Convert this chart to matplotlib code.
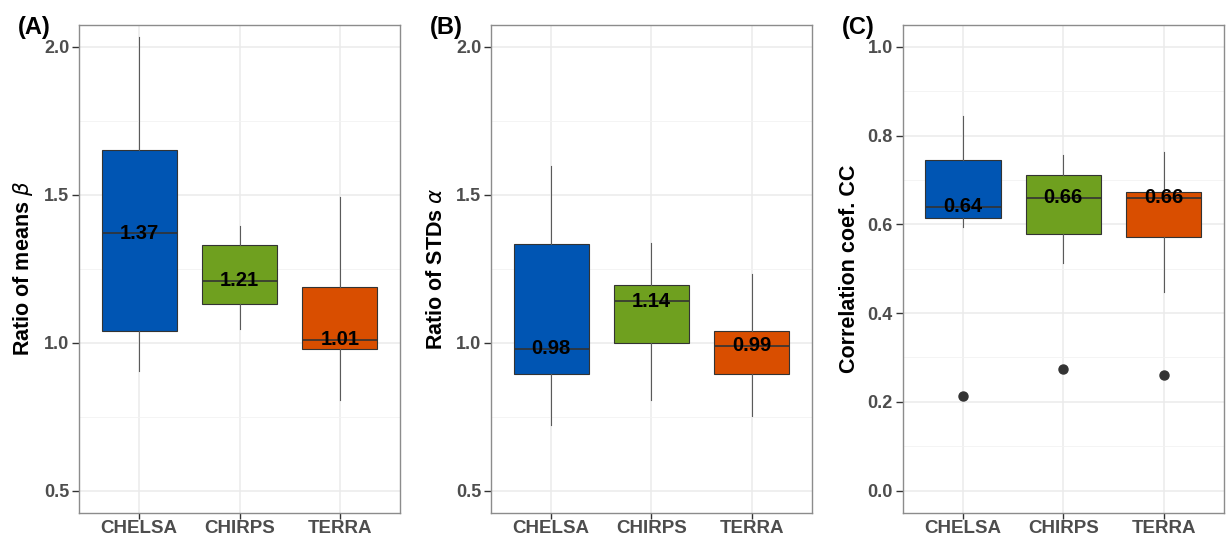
import matplotlib
matplotlib.use('Agg')
import matplotlib.pyplot as plt
from matplotlib.ticker import MultipleLocator

plt.rcParams['font.family'] = ['Liberation Sans', 'DejaVu Sans']

products = ['CHELSA', 'CHIRPS', 'TERRA']
colors = ['#0055B3', '#6FA01F', '#D94E00']

# five-number summaries: (whislo, q1, med, q3, whishi)
beta_lo = [0.905, 1.045, 0.807]
beta_q1 = [1.040, 1.131, 0.977]
beta_med = [1.37, 1.21, 1.01]
beta_q3 = [1.652, 1.330, 1.188]
beta_hi = [2.033, 1.393, 1.491]

alpha_lo = [0.723, 0.805, 0.752]
alpha_q1 = [0.895, 0.998, 0.894]
alpha_med = [0.98, 1.14, 0.99]
alpha_q3 = [1.333, 1.195, 1.038]
alpha_hi = [1.597, 1.336, 1.231]

cc_lo = [0.594, 0.512, 0.447]
cc_q1 = [0.615, 0.579, 0.571]
cc_med = [0.64, 0.66, 0.66]
cc_q3 = [0.744, 0.711, 0.673]
cc_hi = [0.844, 0.756, 0.763]
cc_out = [0.212, 0.273, 0.261]


def draw_panel(ax, lo, q1, med, q3, hi, fliers, ylim, major, ylabel, tag, label_x):
    stats = []
    for i in range(len(products)):
        stats.append({'whislo': lo[i], 'q1': q1[i], 'med': med[i], 'q3': q3[i],
                      'whishi': hi[i], 'fliers': fliers[i] if fliers else []})
    pos = list(range(1, len(products) + 1))
    bp = ax.bxp(stats, positions=pos, widths=0.75, patch_artist=True, showcaps=False,
                boxprops=dict(edgecolor='#333333', linewidth=0.8),
                medianprops=dict(color='#333333', linewidth=1.2),
                whiskerprops=dict(color='#5A5A5A', linewidth=0.8),
                flierprops=dict(marker='o', markersize=6.5, markerfacecolor='#333333',
                                markeredgecolor='#333333'),
                zorder=3)
    for patch, c in zip(bp['boxes'], colors):
        patch.set_facecolor(c)
    for p, m in zip(pos, med):
        ax.text(p, m, '%.2f' % m, ha='center', va='center', fontsize=14.5,
                fontweight='bold', color='black', zorder=4)

    span = ylim[1] - ylim[0]
    ax.set_ylim(ylim[0] - 0.05 * span, ylim[1] + 0.05 * span)
    ax.set_xlim(0.4, 3.6)
    ax.yaxis.set_major_locator(MultipleLocator(major))
    ax.yaxis.set_minor_locator(MultipleLocator(major / 2))
    ax.set_xticks(pos)
    ax.set_xticklabels(products)
    ax.grid(True, which='major', color='#EBEBEB', linewidth=1.1, zorder=0)
    ax.grid(True, which='minor', axis='y', color='#F2F2F2', linewidth=0.6, zorder=0)
    ax.set_axisbelow(True)
    ax.tick_params(axis='y', which='minor', length=0)
    ax.tick_params(axis='y', which='major', length=5, width=1, color='#333333',
                   labelcolor='#4D4D4D', pad=2)
    ax.tick_params(axis='x', which='major', length=4, width=1, color='#333333',
                   labelcolor='#4D4D4D', pad=1)
    for lab in ax.get_yticklabels():
        lab.set_fontsize(13)
        lab.set_fontweight('bold')
    for lab in ax.get_xticklabels():
        lab.set_fontsize(13.5)
        lab.set_fontweight('bold')
    for s in ax.spines.values():
        s.set_color('#8C8C8C')
        s.set_linewidth(1)
    ax.set_ylabel(ylabel, fontsize=15.5, fontweight='bold')
    ax.yaxis.set_label_coords(label_x, 0.5)
    ax.text(-0.19, 0.994, tag, transform=ax.transAxes, fontsize=17, fontweight='bold',
            ha='left', va='center')


fig = plt.figure(figsize=(12.29, 5.38), dpi=100)
bottom, height = 0.047, 0.907
ax1 = fig.add_axes([0.0643, bottom, 0.2612, height])
ax2 = fig.add_axes([0.3995, bottom, 0.2610, height])
ax3 = fig.add_axes([0.7345, bottom, 0.2614, height])

draw_panel(ax1, beta_lo, beta_q1, beta_med, beta_q3, beta_hi, None, (0.5, 2.0), 0.5,
           r'Ratio of means $\beta$', '(A)', -0.137)
draw_panel(ax2, alpha_lo, alpha_q1, alpha_med, alpha_q3, alpha_hi, None, (0.5, 2.0), 0.5,
           r'Ratio of STDs $\alpha$', '(B)', -0.138)
draw_panel(ax3, cc_lo, cc_q1, cc_med, cc_q3, cc_hi, [[v] for v in cc_out], (0.0, 1.0), 0.2,
           'Correlation coef. CC', '(C)', -0.133)

fig.savefig('out.png', dpi=100)
plt.close(fig)
